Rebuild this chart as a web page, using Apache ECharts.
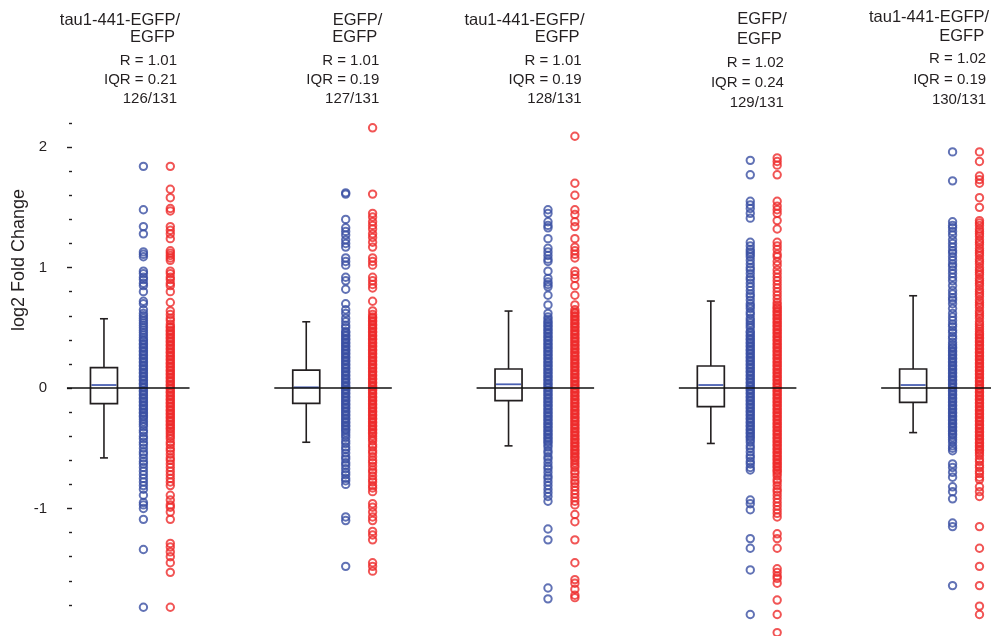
<!DOCTYPE html>
<html><head><meta charset="utf-8">
<script src="https://cdn.jsdelivr.net/npm/echarts@6/dist/echarts.min.js"></script>
<style>html,body{margin:0;padding:0;background:#fff}#c{width:991px;height:636px}</style>
</head><body><div id="c"></div>
<script>
// ---------- data ----------
const panels = [0, 1, 2, 3, 4];
const headerTop = ['tau1-441-EGFP/', 'EGFP/', 'tau1-441-EGFP/', 'EGFP/', 'tau1-441-EGFP/'];
const headerBottom = ['EGFP', 'EGFP', 'EGFP', 'EGFP', 'EGFP'];
const rValues = ['1.01', '1.01', '1.01', '1.02', '1.02'];
const iqrValues = ['0.21', '0.19', '0.19', '0.24', '0.19'];
const countLabels = ['126/131', '127/131', '128/131', '129/131', '130/131'];
const yAxisTitle = 'log2 Fold Change';
const yTicks = [-1, 0, 1, 2];
const yMinorTicks = [-1.8, -1.6, -1.4, -1.2, -0.8, -0.6, -0.4, -0.2, 0.2, 0.4, 0.6, 0.8, 1.2, 1.4, 1.6, 1.8, 2.2];
// box stats per panel: [lower whisker, Q1, median, Q3, upper whisker]
const boxLow = [-0.58, -0.45, -0.48, -0.46, -0.37];
const boxQ1 = [-0.13, -0.127, -0.105, -0.155, -0.119];
const boxMedian = [0.025, 0.006, 0.031, 0.025, 0.025];
const boxQ3 = [0.17, 0.149, 0.158, 0.183, 0.158];
const boxHigh = [0.575, 0.55, 0.639, 0.722, 0.766];

const blue1 = [1.84,1.48,1.34,1.28,1.13,1.11,1.09,0.97,0.95,0.92,0.90,0.87,0.85,0.80,0.72,0.70,0.65,0.62,0.60,0.58,0.56,0.54,0.52,0.50,0.48,0.46,0.44,0.42,
0.40,0.39,0.37,0.36,0.34,0.33,0.31,0.30,0.28,0.27,0.25,0.24,0.22,0.21,0.19,0.18,0.16,0.15,0.13,0.12,0.10,0.09,0.07,0.06,0.04,0.03,0.01,0.00,-0.02,-0.03,-0.05,-0.06,-0.08,-0.09,-0.11,-0.12,-0.14,-0.15,-0.17,-0.18,-0.20,-0.21,-0.23,-0.24,-0.26,-0.28,
-0.30,-0.32,-0.35,-0.37,-0.40,-0.42,-0.45,-0.47,-0.50,-0.53,-0.55,-0.58,-0.61,-0.63,-0.66,-0.69,-0.72,-0.75,-0.78,-0.81,-0.84,
-0.89,-0.95,-0.97,-1.00,-1.09,-1.34,-1.82];
const red1 = [1.84,1.65,1.58,1.49,1.47,1.34,1.31,1.28,1.24,1.14,1.12,1.10,1.08,1.06,0.97,0.95,0.92,0.90,0.87,0.85,0.80,0.71,0.64,0.61,0.58,0.56,0.53,
0.51,0.50,0.48,0.47,0.45,0.44,0.42,0.41,0.39,0.38,0.36,0.35,0.33,0.32,0.30,0.29,0.27,0.26,0.24,0.23,0.21,0.20,0.18,0.17,0.15,0.14,0.12,0.11,0.09,0.08,0.06,0.05,0.03,0.02,0.00,-0.01,-0.03,-0.04,-0.06,-0.07,-0.09,-0.10,-0.12,-0.13,-0.15,-0.16,-0.18,-0.19,-0.21,-0.22,-0.24,-0.25,-0.27,-0.28,-0.30,-0.31,-0.33,-0.34,-0.36,-0.38,-0.40,
-0.42,-0.45,-0.47,-0.50,-0.52,-0.55,-0.58,-0.60,-0.63,-0.66,-0.69,-0.72,-0.75,-0.78,-0.81,
-0.89,-0.93,-0.97,-0.99,-1.03,-1.09,-1.29,-1.32,-1.36,-1.40,-1.45,-1.53,-1.82];
const blue2 = [1.62,1.61,1.40,1.33,1.30,1.27,1.23,1.20,1.17,1.08,1.05,1.02,0.92,0.89,0.82,0.70,0.65,0.62,0.58,0.55,0.52,0.50,
0.47,0.46,0.44,0.43,0.41,0.40,0.38,0.37,0.35,0.34,0.32,0.31,0.29,0.28,0.26,0.25,0.23,0.22,0.20,0.19,0.17,0.16,0.14,0.13,0.11,0.10,0.08,0.07,0.05,0.04,0.02,0.01,-0.01,-0.02,-0.04,-0.05,-0.07,-0.08,-0.10,-0.11,-0.13,-0.14,-0.16,-0.17,-0.19,-0.20,-0.22,-0.23,-0.25,-0.26,-0.28,-0.29,-0.31,-0.32,-0.34,-0.35,-0.37,-0.39,
-0.41,-0.44,-0.46,-0.49,-0.51,-0.54,-0.57,-0.59,-0.62,-0.64,-0.67,-0.70,-0.72,-0.75,-0.77,-0.80,
-1.07,-1.10,-1.48];
const red2 = [2.16,1.61,1.45,1.42,1.38,1.35,1.32,1.28,1.25,1.21,1.17,1.08,1.05,1.02,0.92,0.89,0.86,0.83,0.72,0.64,0.61,
0.59,0.58,0.56,0.55,0.53,0.52,0.50,0.49,0.47,0.46,0.44,0.43,0.41,0.40,0.38,0.37,0.35,0.34,0.32,0.31,0.29,0.28,0.26,0.25,0.23,0.22,0.20,0.19,0.17,0.16,0.14,0.13,0.11,0.10,0.08,0.07,0.05,0.04,0.02,0.01,-0.01,-0.02,-0.04,-0.05,-0.07,-0.08,-0.10,-0.11,-0.13,-0.14,-0.16,-0.17,-0.19,-0.20,-0.22,-0.23,-0.25,-0.26,-0.28,-0.29,-0.31,-0.32,-0.34,-0.35,-0.37,-0.38,-0.40,-0.42,
-0.44,-0.47,-0.49,-0.52,-0.54,-0.57,-0.60,-0.62,-0.65,-0.68,-0.70,-0.73,-0.76,-0.78,-0.81,-0.83,-0.86,
-0.96,-0.99,-1.03,-1.07,-1.10,-1.19,-1.22,-1.26,-1.45,-1.48,-1.52];
const blue3 = [1.48,1.45,1.38,1.35,1.33,1.24,1.16,1.13,1.10,1.07,1.05,0.97,0.91,0.88,0.86,0.84,0.77,0.69,0.62,0.59,0.57,
0.55,0.54,0.52,0.51,0.49,0.48,0.46,0.45,0.43,0.42,0.40,0.39,0.37,0.36,0.34,0.33,0.31,0.30,0.28,0.27,0.25,0.24,0.22,0.21,0.19,0.18,0.16,0.15,0.13,0.12,0.10,0.09,0.07,0.06,0.04,0.03,0.01,0.00,-0.02,-0.03,-0.05,-0.06,-0.08,-0.09,-0.11,-0.12,-0.14,-0.15,-0.17,-0.18,-0.20,-0.21,-0.23,-0.24,-0.26,-0.27,-0.29,-0.30,-0.32,-0.33,-0.35,-0.36,-0.38,-0.39,-0.41,-0.42,-0.44,-0.45,-0.47,
-0.49,-0.52,-0.54,-0.57,-0.59,-0.62,-0.65,-0.67,-0.70,-0.73,-0.75,-0.78,-0.81,-0.84,-0.87,-0.90,-0.94,
-1.17,-1.26,-1.66,-1.75];
const red3 = [2.09,1.70,1.60,1.48,1.44,1.38,1.34,1.24,1.17,1.14,1.11,1.08,0.97,0.94,0.91,0.85,0.77,0.69,0.65,
0.63,0.62,0.60,0.59,0.57,0.56,0.54,0.53,0.51,0.50,0.48,0.47,0.45,0.44,0.42,0.41,0.39,0.38,0.36,0.35,0.33,0.32,0.30,0.29,0.27,0.26,0.24,0.23,0.21,0.20,0.18,0.17,0.15,0.14,0.12,0.11,0.09,0.08,0.06,0.05,0.03,0.02,0.00,-0.01,-0.03,-0.04,-0.06,-0.07,-0.09,-0.10,-0.12,-0.13,-0.15,-0.16,-0.18,-0.19,-0.21,-0.22,-0.24,-0.25,-0.27,-0.28,-0.30,-0.31,-0.33,-0.34,-0.36,-0.37,-0.39,-0.40,-0.42,-0.43,-0.45,-0.46,-0.48,-0.49,-0.51,-0.52,-0.54,-0.55,-0.57,-0.58,-0.60,-0.62,-0.64,
-0.66,-0.69,-0.71,-0.74,-0.77,-0.79,-0.82,-0.85,-0.88,-0.91,-0.94,-0.97,
-1.05,-1.11,-1.26,-1.45,-1.59,-1.62,-1.67,-1.72,-1.74];
const blue4 = [1.89,1.77,1.55,1.52,1.49,1.45,1.41,1.21,1.18,1.15,1.13,1.11,1.09,1.06,1.03,1.00,0.98,0.95,0.92,0.90,0.87,0.84,0.81,0.78,0.76,0.73,0.70,0.68,0.66,0.63,0.61,0.58,0.56,0.54,0.52,0.50,
0.47,0.46,0.44,0.43,0.41,0.40,0.38,0.37,0.35,0.34,0.32,0.31,0.29,0.28,0.26,0.25,0.23,0.22,0.20,0.19,0.17,0.16,0.14,0.13,0.11,0.10,0.08,0.07,0.05,0.04,0.02,0.01,-0.01,-0.02,-0.04,-0.05,-0.07,-0.08,-0.10,-0.11,-0.13,-0.14,-0.16,-0.17,-0.19,-0.20,-0.22,-0.23,-0.25,-0.26,-0.28,-0.29,-0.31,-0.32,-0.34,-0.35,-0.37,-0.38,-0.40,-0.41,-0.43,
-0.45,-0.48,-0.50,-0.53,-0.56,-0.58,-0.61,-0.63,-0.66,-0.68,
-0.93,-0.96,-1.01,-1.25,-1.33,-1.51,-1.88];
const red4 = [1.91,1.88,1.85,1.77,1.55,1.51,1.48,1.45,1.39,1.32,1.21,1.18,1.15,1.11,1.09,1.05,1.02,0.98,0.95,0.92,0.89,0.86,0.83,0.80,0.77,0.74,0.71,0.69,
0.67,0.66,0.64,0.63,0.61,0.60,0.58,0.57,0.55,0.54,0.52,0.51,0.49,0.48,0.46,0.45,0.43,0.42,0.40,0.39,0.37,0.36,0.34,0.33,0.31,0.30,0.28,0.27,0.25,0.24,0.22,0.21,0.19,0.18,0.16,0.15,0.13,0.12,0.10,0.09,0.07,0.06,0.04,0.03,0.01,0.00,-0.02,-0.03,-0.05,-0.06,-0.08,-0.09,-0.11,-0.12,-0.14,-0.15,-0.17,-0.18,-0.20,-0.21,-0.23,-0.24,-0.26,-0.27,-0.29,-0.30,-0.32,-0.33,-0.35,-0.36,-0.38,-0.39,-0.41,-0.42,-0.44,-0.45,-0.47,-0.48,-0.50,-0.51,-0.53,-0.54,-0.56,-0.57,-0.59,-0.60,-0.62,-0.63,-0.65,-0.66,-0.68,-0.69,-0.71,
-0.73,-0.76,-0.78,-0.81,-0.84,-0.86,-0.89,-0.92,-0.95,-0.98,-1.01,-1.04,-1.07,
-1.21,-1.25,-1.33,-1.50,-1.53,-1.56,-1.58,-1.62,-1.76,-1.88,-2.03];
const blue5 = [1.96,1.72,1.38,1.35,1.33,1.30,1.27,1.23,1.20,1.17,1.14,1.12,1.09,1.06,1.03,1.01,0.98,0.95,0.92,0.89,0.85,0.81,0.78,0.75,0.73,0.70,0.66,0.62,0.59,0.56,0.53,0.51,0.48,0.46,0.43,0.41,0.38,0.36,
0.34,0.33,0.31,0.30,0.28,0.27,0.25,0.24,0.22,0.21,0.19,0.18,0.16,0.15,0.13,0.12,0.10,0.09,0.07,0.06,0.04,0.03,0.01,0.00,-0.02,-0.03,-0.05,-0.06,-0.08,-0.09,-0.11,-0.12,-0.14,-0.15,-0.17,-0.18,-0.20,-0.21,-0.23,-0.24,-0.26,-0.27,-0.29,-0.30,-0.32,-0.33,-0.35,-0.36,-0.38,-0.39,-0.41,-0.43,
-0.45,-0.48,-0.50,-0.52,
-0.63,-0.66,-0.70,-0.74,-0.82,-0.86,-0.92,-1.12,-1.15,-1.64];
const red5 = [1.96,1.88,1.76,1.73,1.70,1.58,1.50,
1.39,1.37,1.35,1.32,1.30,1.28,1.26,1.23,1.21,1.19,1.16,1.14,1.12,1.10,1.07,1.05,1.03,1.00,0.98,0.96,0.94,0.91,0.89,0.87,0.85,0.82,0.80,0.78,0.76,0.73,0.71,0.69,0.67,0.64,0.62,0.60,0.58,0.55,0.53,0.51,0.49,0.47,
0.45,0.44,0.42,0.41,0.39,0.38,0.36,0.35,0.33,0.32,0.30,0.29,0.27,0.26,0.24,0.23,0.21,0.20,0.18,0.17,0.15,0.14,0.12,0.11,0.09,0.08,0.06,0.05,0.03,0.02,0.00,-0.01,-0.03,-0.04,-0.06,-0.07,-0.09,-0.10,-0.12,-0.13,-0.15,-0.16,-0.18,-0.19,-0.21,-0.22,-0.24,-0.25,-0.27,-0.28,-0.30,-0.31,-0.33,-0.34,-0.36,-0.37,-0.39,-0.40,-0.42,-0.43,-0.45,-0.46,-0.48,-0.49,-0.51,-0.52,-0.54,
-0.56,-0.59,-0.61,-0.64,-0.66,-0.69,-0.71,-0.74,-0.76,
-0.82,-0.86,-0.90,-1.15,-1.33,-1.48,-1.64,-1.81,-1.88];

const blueColumns = [blue1, blue2, blue3, blue4, blue5];
const redColumns = [red1, red2, red3, red4, red5];

// ---------- layout / style constants ----------
const BLUE = '#3a4fa2', RED = '#ee2a2a', INK = '#231f20', MEDIAN = '#4a60b2';
const FONT = '"Liberation Sans", Arial, Helvetica, sans-serif';
const BLUE_OFF = 0.195, RED_OFF = 0.328;
const LINE_START = -0.158, LINE_START_FIRST = -0.183, LINE_END = 0.423;
const TEXT_RIGHT = 0.361;
const SYMBOL_SIZE = 7.4;

const chart = echarts.init(document.getElementById('c'), null, {renderer: 'canvas'});

const pointStyle = c => ({color: 'rgba(0,0,0,0)', borderColor: c, borderWidth: 2});
const series = [];

series.push({
  type: 'custom', z: 3, silent: true,
  data: panels.map(i => [i, boxLow[i], boxQ1[i], boxMedian[i], boxQ3[i], boxHigh[i]]),
  renderItem: (params, api) => {
    const i = api.value(0);
    const cx = api.coord([i, 0])[0];
    const y = k => api.coord([i, api.value(k)])[1];
    const ylo = y(1), yq1 = y(2), ymed = y(3), yq3 = y(4), yhi = y(5);
    const hw = 13.5, cw = 4;
    const st = {stroke: INK, lineWidth: 1.6, fill: null};
    return {type: 'group', children: [
      {type: 'line', shape: {x1: cx - hw + 1, y1: ymed, x2: cx + hw - 1, y2: ymed}, style: {stroke: MEDIAN, lineWidth: 1.8}},
      {type: 'rect', shape: {x: cx - hw, y: yq3, width: 2 * hw, height: yq1 - yq3}, style: {fill: 'none', stroke: INK, lineWidth: 1.7}},
      {type: 'line', shape: {x1: cx, y1: yq3, x2: cx, y2: yhi}, style: st},
      {type: 'line', shape: {x1: cx, y1: yq1, x2: cx, y2: ylo}, style: st},
      {type: 'line', shape: {x1: cx - cw, y1: yhi, x2: cx + cw, y2: yhi}, style: st},
      {type: 'line', shape: {x1: cx - cw, y1: ylo, x2: cx + cw, y2: ylo}, style: st}
    ]};
  }
});

panels.forEach(i => {
  series.push({type: 'scatter', z: 2, silent: true, symbol: 'circle', symbolSize: SYMBOL_SIZE, clip: false,
    itemStyle: pointStyle(BLUE), data: blueColumns[i].map(v => [i + BLUE_OFF, v])});
  series.push({type: 'scatter', z: 2, silent: true, symbol: 'circle', symbolSize: SYMBOL_SIZE, clip: false,
    itemStyle: pointStyle(RED), data: redColumns[i].map(v => [i + RED_OFF, v])});
});

series.push({
  type: 'custom', z: 6, silent: true,
  data: panels.map(i => [i, 0]),
  renderItem: (params, api) => {
    const i = api.value(0);
    const p1 = api.coord([i + (i === 0 ? LINE_START_FIRST : LINE_START), api.value(1)]);
    const p2 = api.coord([i + LINE_END, api.value(1)]);
    return {type: 'line', shape: {x1: p1[0], y1: p1[1], x2: p2[0], y2: p2[1]}, style: {stroke: '#111', lineWidth: 1.4}};
  }
});

const tickStyle = {color: INK, width: 1.4};
chart.setOption({
  animation: false,
  backgroundColor: '#ffffff',
  grid: {left: 72, right: 0, top: 123, bottom: 1, containLabel: false},
  xAxis: {type: 'value', min: -0.158, max: 4.385, show: false},
  yAxis: [
    {type: 'value', min: -2.05, max: 2.2, position: 'left',
      axisLine: {show: false, onZero: false}, splitLine: {show: false},
      axisTick: {show: true, length: 5, customValues: yTicks, lineStyle: tickStyle},
      axisLabel: {show: true, customValues: yTicks, margin: 25, fontSize: 15, color: INK, fontFamily: FONT}},
    {type: 'value', min: -2.05, max: 2.2, position: 'left',
      axisLine: {show: false, onZero: false}, splitLine: {show: false},
      axisTick: {show: true, length: 3, customValues: yMinorTicks, lineStyle: tickStyle},
      axisLabel: {show: false}}
  ],
  series: series
});

// header texts positioned through the axis scale
const lineYs = [
  [20, 37.7, 61, 80, 99.3],
  [20, 37.7, 61, 80, 99.3],
  [20, 37.7, 61, 80, 99.3],
  [19.5, 39.5, 62.5, 83, 102.5],
  [17, 36.7, 59, 80, 100]
];
const graphics = [];
panels.forEach(i => {
  const xr = chart.convertToPixel({xAxisIndex: 0, yAxisIndex: 0}, [i + TEXT_RIGHT, 0])[0];
  const ly = lineYs[i];
  const mk = (text, x, y, size) => ({type: 'text', x: x, y: y, silent: true,
    style: {text: text, font: size + 'px ' + FONT, fill: INK, align: 'right', verticalAlign: 'middle'}});
  graphics.push(mk(headerTop[i], xr + 3, ly[0], 16.5));
  graphics.push(mk(headerBottom[i], xr - 2, ly[1], 16.5));
  graphics.push(mk('R = ' + rValues[i], xr, ly[2], 15));
  graphics.push(mk('IQR = ' + iqrValues[i], xr, ly[3], 15));
  graphics.push(mk(countLabels[i], xr, ly[4], 15));
});
graphics.push({type: 'text', x: 19, y: 260, rotation: Math.PI / 2, silent: true,
  style: {text: yAxisTitle, font: '18px ' + FONT, fill: INK, align: 'center', verticalAlign: 'middle'}});
chart.setOption({graphic: graphics});
</script>
</body></html>
